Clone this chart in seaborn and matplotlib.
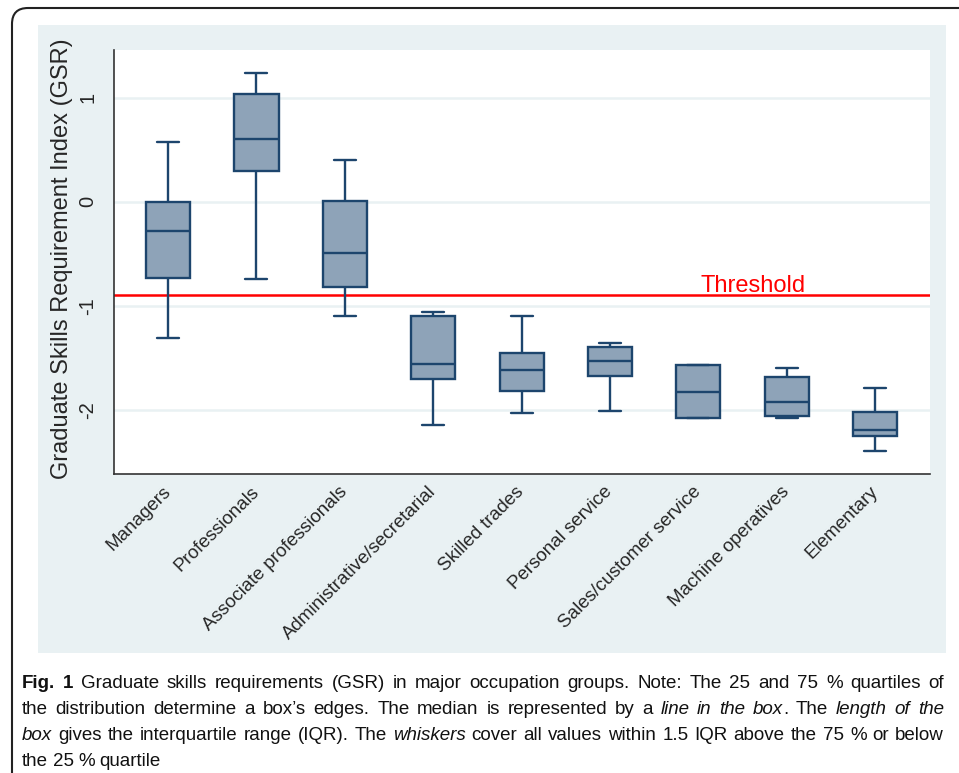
import pandas as pd
import seaborn as sns
import matplotlib.pyplot as plt
from matplotlib import font_manager
from matplotlib.patches import FancyBboxPatch, Rectangle
from matplotlib.transforms import IdentityTransform

# Werte
groups = ["Managers", "Professionals", "Associate professionals",
          "Administrative/secretarial", "Skilled trades", "Personal service",
          "Sales/customer service", "Machine operatives", "Elementary"]
whisker_low = [-1.31, -0.74, -1.10, -2.15, -2.03, -2.01, -2.08, -2.08, -2.40]
q1 = [-0.73, 0.295, -0.82, -1.70, -1.82, -1.675, -2.08, -2.06, -2.25]
median = [-0.28, 0.60, -0.49, -1.56, -1.62, -1.535, -1.83, -1.93, -2.195]
q3 = [0.0, 1.04, 0.01, -1.10, -1.45, -1.40, -1.57, -1.69, -2.02]
whisker_high = [0.57, 1.235, 0.40, -1.06, -1.10, -1.36, -1.57, -1.60, -1.79]
threshold = -0.9
yticks = [-2, -1, 0, 1]
ytick_labels = ["-2", "-1", "0", "1"]

# five points per group -> box stats come out exactly as read
rows = []
for i, g in enumerate(groups):
    for v in (whisker_low[i], q1[i], median[i], q3[i], whisker_high[i]):
        rows.append({"group": g, "gsr": v})
df = pd.DataFrame(rows)

sns.set_style("white")
plt.rcParams['font.family'] = ['Liberation Sans', 'DejaVu Sans']

W, H = 959, 773
panel_c = "#E9F1F3"
box_face = "#8EA3B8"
box_edge = "#1D456D"

fig = plt.figure(figsize=(W / 100, H / 100), dpi=100)

# rahmen + hintergrund
border = FancyBboxPatch((12, -40), 1000, 805,
                        boxstyle="round,pad=0,rounding_size=16",
                        transform=IdentityTransform(), facecolor="white",
                        edgecolor="#222222", linewidth=1.5, zorder=-3)
fig.add_artist(border)
panel = Rectangle((38, H - 653), 946 - 38, 653 - 25, transform=IdentityTransform(),
                  facecolor=panel_c, edgecolor="none", zorder=-2)
fig.add_artist(panel)

ax = fig.add_axes([114 / W, 1 - 474 / H, (930 - 114) / W, (474 - 50) / H])
ax.set_facecolor("white")

sns.boxplot(data=df, x="group", y="gsr", order=groups, width=0.5,
            color=box_face, linecolor=box_edge, linewidth=1.7, saturation=1,
            whis=1.5, showfliers=False, ax=ax)

ax.set_xlim(-0.611, 8.62)
ax.set_ylim(-2.618, 1.459)
ax.set_axisbelow(True)
ax.yaxis.grid(True, color=panel_c, linewidth=1.8)
ax.xaxis.grid(False)

ax.axhline(threshold, color="#FF0000", linewidth=1.8, zorder=1.5)
ax.text(6.02, -0.868, "Threshold", color="#FF0000", fontsize=17, va="baseline")

ax.set_xticks(range(len(groups)))
ax.set_xticklabels(groups, rotation=45, ha="right", va="center",
                   rotation_mode="anchor", fontsize=13.5)
ax.tick_params(axis="x", length=0, pad=11)
ax.set_yticks(yticks)
ax.set_yticklabels(ytick_labels, fontsize=14.5, rotation=90, va="center")
ax.tick_params(axis="y", length=7, width=1.2, color="#555555", pad=5)

sns.despine(ax=ax)
for s in ("left", "bottom"):
    ax.spines[s].set_color("#333333")
    ax.spines[s].set_linewidth(1.2)

ax.set_xlabel("")
ax.set_ylabel("Graduate Skills Requirement Index (GSR)", fontsize=17)
ax.yaxis.set_label_coords(-0.050, 0.507)

# Bildunterschrift, Blocksatz
names = {f.name for f in font_manager.fontManager.ttflist}
cap_font = "Liberation Sans Narrow" if "Liberation Sans Narrow" in names else "Liberation Sans"
cap_size = 13.5 if cap_font == "Liberation Sans" else 15

caption_lines = [
    [("Fig. 1", "bold"),
     (" Graduate skills requirements (GSR) in major occupation groups. Note: The 25 and 75 % quartiles of", "normal")],
    [("the distribution determine a box\u2019s edges. The median is represented by a ", "normal"),
     ("line in the box", "italic"), (". The ", "normal"), ("length of the", "italic")],
    [("box", "italic"), (" gives the interquartile range (IQR). The ", "normal"),
     ("whiskers", "italic"), (" cover all values within 1.5 IQR above the 75 % or below", "normal")],
    [("the 25 % quartile", "normal")],
]
baselines = [688, 714, 740, 766]
left, right = 22, 944

renderer = fig.canvas.get_renderer()


def make_text(s, style):
    kw = {"fontweight": "bold"} if style == "bold" else {}
    if style == "italic":
        kw["fontstyle"] = "italic"
    return fig.text(0, 0, s, family=[cap_font, "DejaVu Sans"], fontsize=cap_size,
                    color="#111111", ha="left", va="baseline", **kw)


for li, line in enumerate(caption_lines):
    tokens = []
    for seg, style in line:
        parts = seg.split(" ")
        for j, p in enumerate(parts):
            if j == 0 and tokens:
                if p:
                    tokens[-1].append((p, style))
            else:
                tokens.append([(p, style)] if p else [])
    tokens = [t for t in tokens if t]
    placed = []
    total = 0
    for tok in tokens:
        pieces = []
        for s, style in tok:
            t = make_text(s, style)
            w = t.get_window_extent(renderer).width
            pieces.append((t, w))
            total += w
        placed.append(pieces)
    if li < len(caption_lines) - 1:
        gap = (right - left - total) / (len(placed) - 1)
    else:
        gap = cap_size * 100 / 72 * 0.25
    x = left
    for pieces in placed:
        for t, w in pieces:
            t.set_position((x / W, 1 - baselines[li] / H))
            x += w
        x += gap

fig.savefig("out.png", dpi=100)
